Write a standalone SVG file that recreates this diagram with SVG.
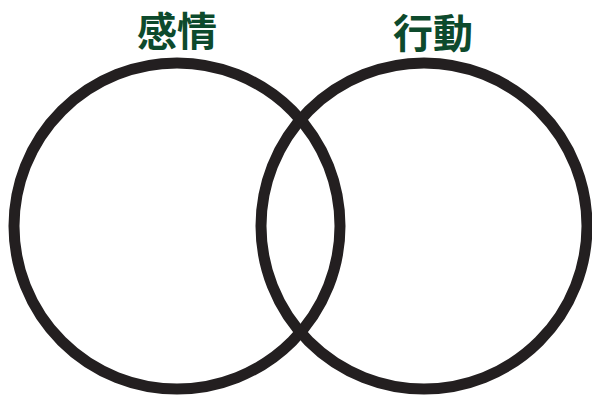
<svg xmlns="http://www.w3.org/2000/svg" width="592" height="401" viewBox="0 0 592 401">
<style>
.c{fill:none;stroke:#231f20;stroke-width:11}
.t{font-family:"Noto Sans CJK JP","Noto Sans CJK SC",sans-serif;font-weight:bold;font-size:40px;fill:#0d4a2c;text-anchor:middle}
</style>
<rect width="592" height="401" fill="#fff"/>
<g id="emotion">
<circle class="c" cx="177" cy="226" r="163"/>
<text class="t" x="177" y="46">感情</text>
</g>
<g id="action">
<circle class="c" cx="424" cy="226" r="163"/>
<text class="t" x="433" y="48">行動</text>
</g>
<g id="connectors"></g>
</svg>
